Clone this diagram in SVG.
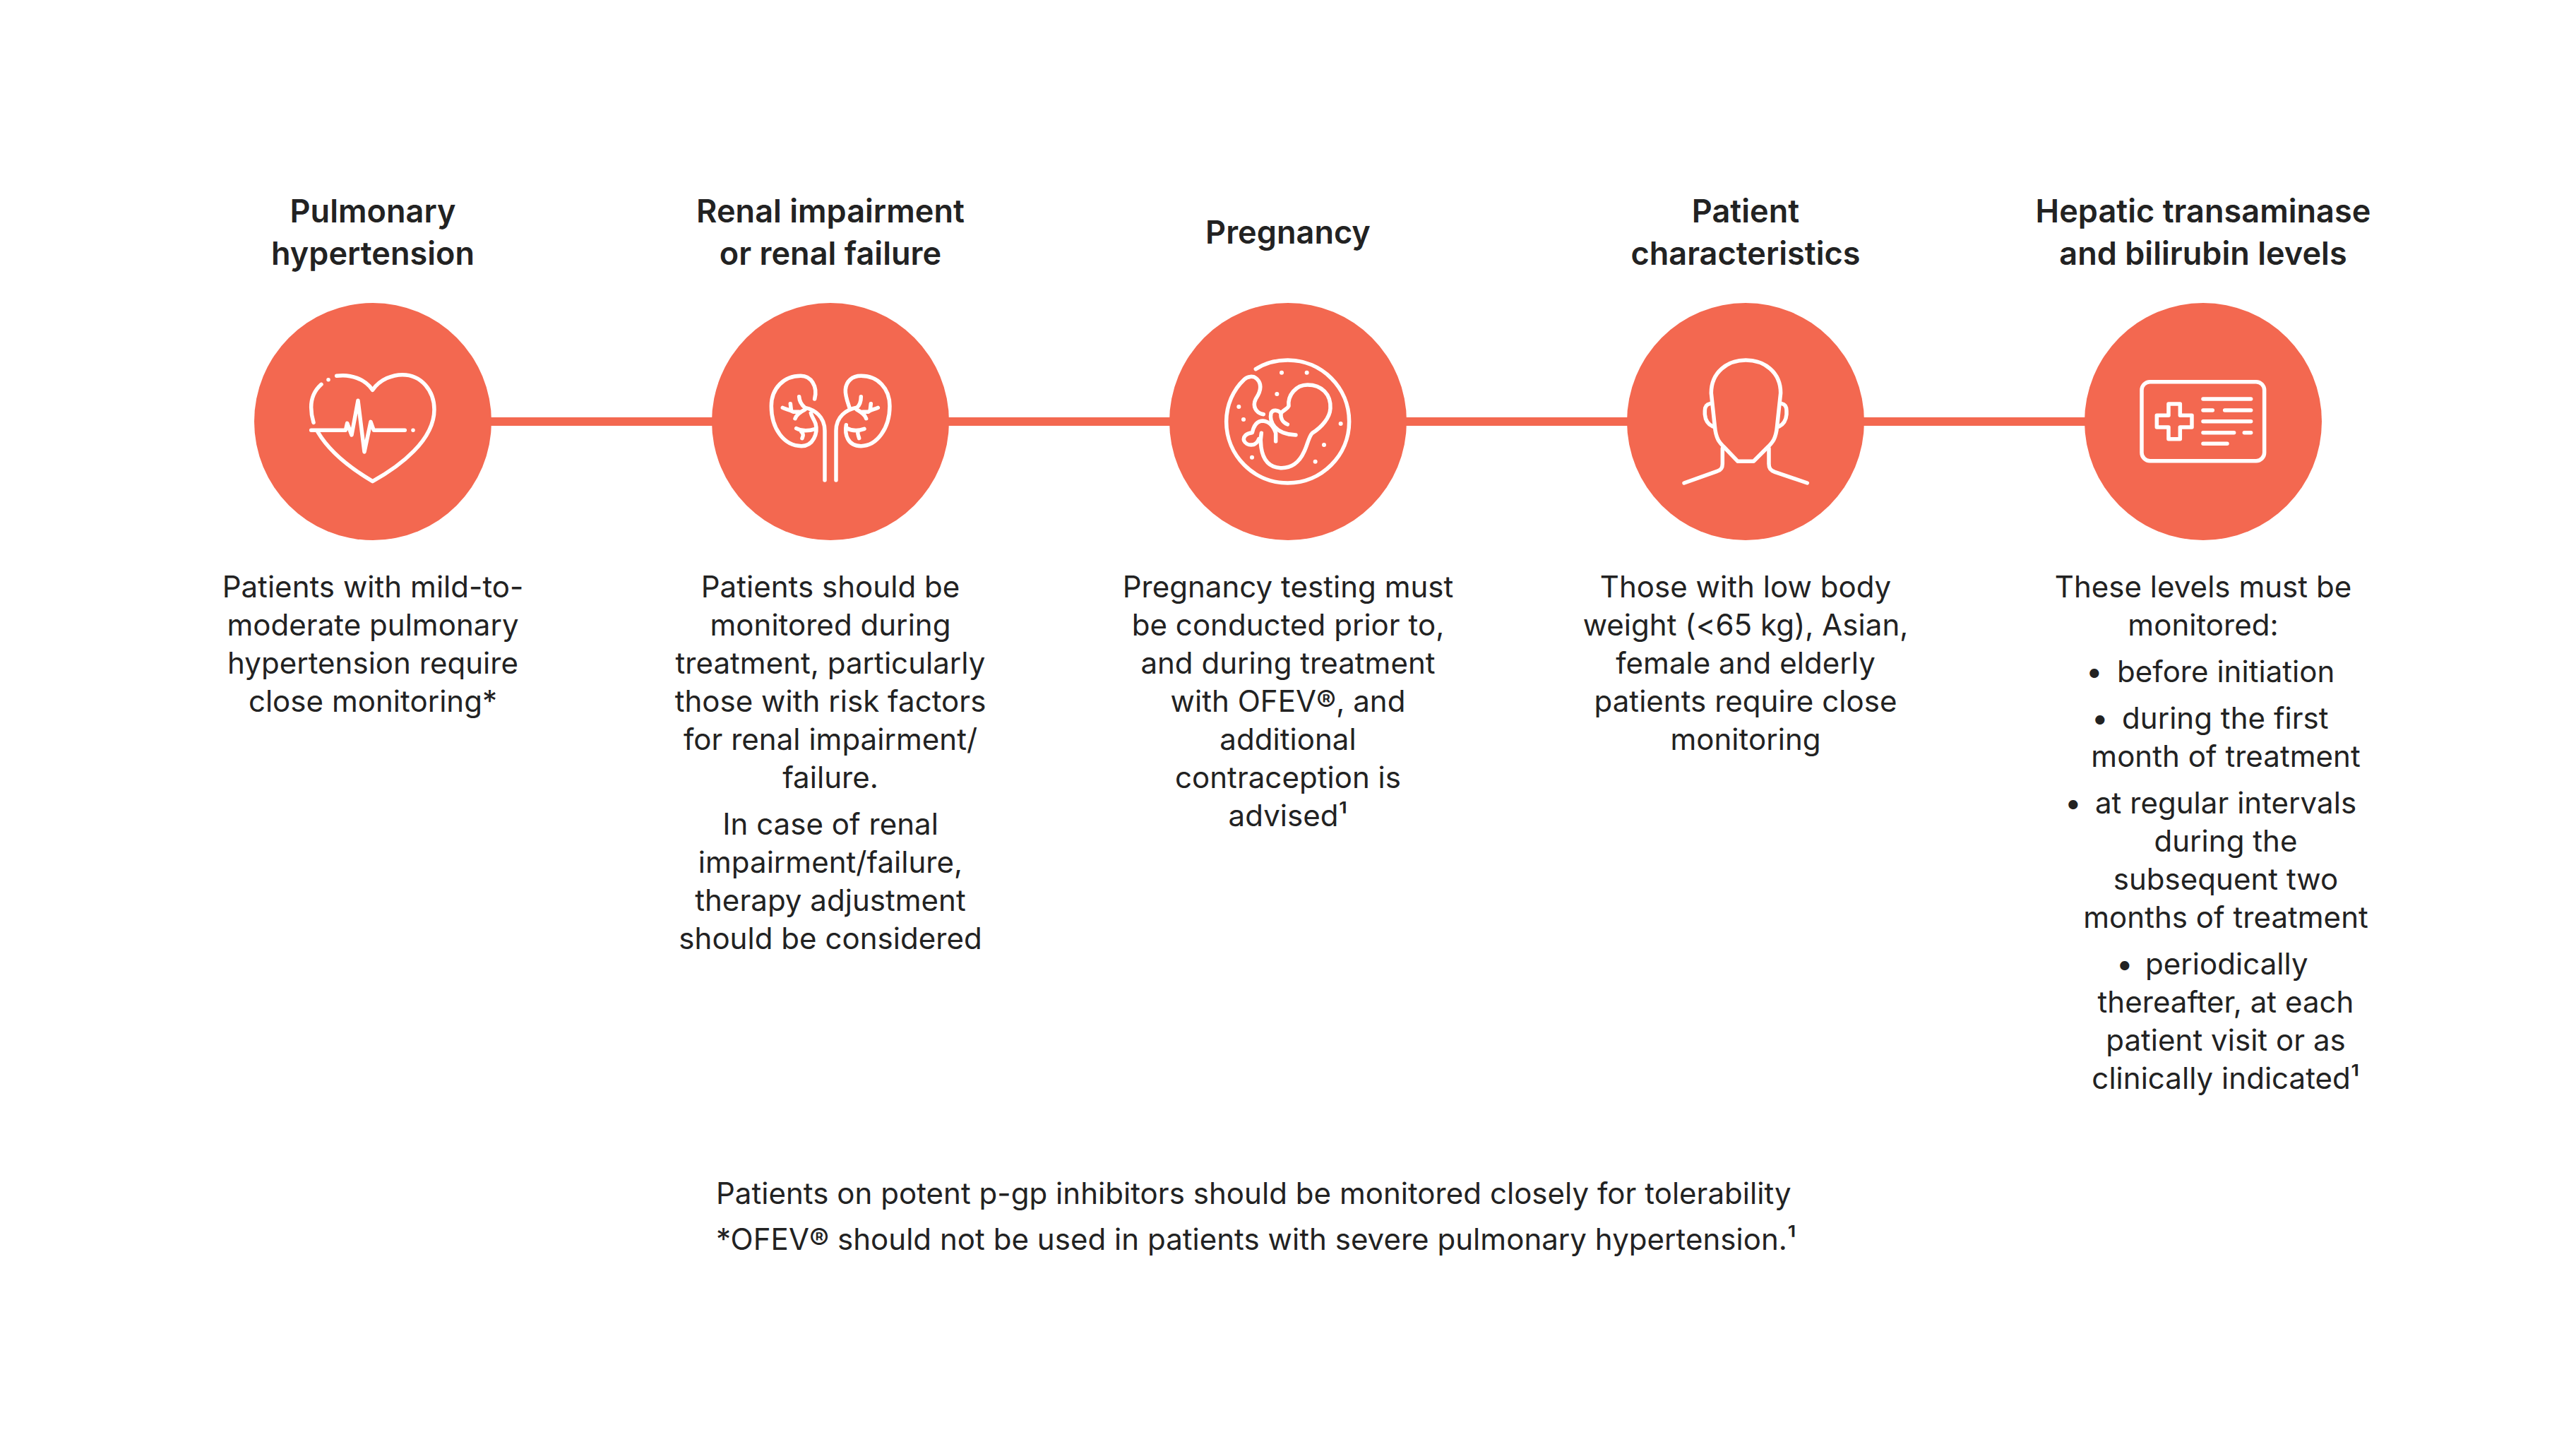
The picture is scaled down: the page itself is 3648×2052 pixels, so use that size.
<svg xmlns="http://www.w3.org/2000/svg" width="3648" height="2052" viewBox="0 0 3648 2052">
<style>
text{font-family:Inter,"Liberation Sans",sans-serif;font-size:42px;letter-spacing:.04px;fill:#222;text-anchor:middle}
.t{font-weight:600;font-size:45px}
.s{text-anchor:start}
.c{fill:#f36850}
.i{fill:none;stroke:#fff;stroke-width:16.5;stroke-linecap:round;stroke-linejoin:round}
</style>
<rect width="3648" height="2052" fill="#fff"/>
<g id="connectors"><rect x="528" y="591" width="2592" height="12" fill="#f36850"/></g>
<g id="node-pulmonary">
<text class="t" x="528" y="315">Pulmonary</text><text class="t" x="528" y="375">hypertension</text>
<circle class="c" cx="528" cy="597" r="168"/>
<g transform="translate(400,490) scale(.3333)" class="i">
<path d="M230 127C290 118 350 140 383 187C415 140 470 122 510 122C590 122 645 190 645 270C645 400 500 510 383 575C290 520 200 450 150 365"/>
<path d="M165 163C135 190 122 225 122 260C122 285 126 305 132 325"/>
<path d="M122 358H268L275 328L294 378L321 232L348 450L375 322L388 358H520"/>
<path d="M195 143h.1M555 358h.1"/>
</g>
<text x="528" y="846">Patients with mild-to-</text><text x="528" y="900">moderate pulmonary</text><text x="528" y="954">hypertension require</text><text x="528" y="1008">close monitoring*</text>
</g>
<g id="node-renal">
<text class="t" x="1176" y="315">Renal impairment</text><text class="t" x="1176" y="375">or renal failure</text>
<circle class="c" cx="1176" cy="597" r="168"/>
<g transform="translate(1060,500) scale(.3333)" class="i">
<path d="M281 195C295 140 265 97 222 97C150 97 97 150 97 225C97 320 150 395 225 395C275 395 296 340 285 300C278 280 268 270 265 255"/>
<path d="M324 540V330C324 270 280 240 240 232C225 220 216 205 215 185"/>
<path d="M240 240C220 250 205 260 198 278M145 232C160 240 175 240 190 250L215 250M178 215L181 240M203 320C225 332 255 332 285 322M225 335C235 345 232 352 228 362"/>
<path d="M430 235C420 205 410 180 412 155C415 120 440 97 478 97C550 97 600 150 600 225C600 320 545 395 478 395C420 395 408 345 415 305"/>
<path d="M372 540V330C372 270 415 240 460 232C472 222 478 205 478 185"/>
<path d="M460 240C478 250 495 260 500 278M550 232C535 240 520 240 508 250L485 250M520 215L517 240M415 318C440 332 465 332 492 322M465 335C462 345 468 352 470 362"/>
</g>
<text x="1176" y="846">Patients should be</text><text x="1176" y="900">monitored during</text><text x="1176" y="954">treatment, particularly</text><text x="1176" y="1008">those with risk factors</text><text x="1176" y="1062">for renal impairment/</text><text x="1176" y="1116">failure.</text>
<text x="1176" y="1182">In case of renal</text><text x="1176" y="1236">impairment/failure,</text><text x="1176" y="1290">therapy adjustment</text><text x="1176" y="1344">should be considered</text>
</g>
<g id="node-pregnancy">
<text class="t" x="1824" y="345">Pregnancy</text>
<circle class="c" cx="1824" cy="597" r="168"/>
<g transform="translate(1710,490) scale(.3333)" class="i">
<path d="M205 98C245 72 295 60 341 60C485 60 602 177 602 321C602 465 485 582 341 582C197 582 80 465 80 321C80 250 110 185 155 143C170 128 195 125 210 140C235 165 225 195 205 225C190 255 205 285 238 290"/>
<path d="M340 333C318 325 310 305 312 285C300 272 278 268 270 285C262 320 285 375 375 378"/>
<path d="M312 285C325 270 340 268 345 255C340 210 375 165 425 165C485 165 525 205 522 265C520 305 485 345 445 370C430 385 425 420 410 450C390 495 355 520 310 518C260 515 235 480 228 430C224 405 226 385 229 370"/>
<path d="M290 405V370C280 340 260 320 235 318C205 318 195 345 190 368C165 370 150 385 155 402C165 425 205 430 218 395"/>
<path d="M315 113h.1M422 113h.1M295 204h.1M133 258h.1M153 312h.1M566 330h.1M495 420h.1M458 491h.1M189 473h.1" stroke-width="18"/>
</g>
<text x="1824" y="846">Pregnancy testing must</text><text x="1824" y="900">be conducted prior to,</text><text x="1824" y="954">and during treatment</text><text x="1824" y="1008">with OFEV®, and</text><text x="1824" y="1062">additional</text><text x="1824" y="1116">contraception is</text><text x="1824" y="1170">advised¹</text>
</g>
<g id="node-patient">
<text class="t" x="2472" y="315">Patient</text><text class="t" x="2472" y="375">characteristics</text>
<circle class="c" cx="2472" cy="597" r="168"/>
<g transform="translate(2360,490) scale(.3333)" class="i">
<path d="M190 200L205 340C210 395 225 410 245 430L303 490H370L430 430C450 410 465 395 470 340L485 200C485 110 415 60 337 60C260 60 190 110 190 200Z"/>
<path d="M185 245C170 248 163 258 163 275V290C165 315 175 332 197 342M490 245C505 248 510 258 510 275V290C508 315 498 332 478 342"/>
<path d="M238 435V500C238 520 230 528 215 532L75 582M435 435V500C435 520 442 528 460 535L598 582"/>
</g>
<text x="2472" y="846">Those with low body</text><text x="2472" y="900">weight (&lt;65 kg), Asian,</text><text x="2472" y="954">female and elderly</text><text x="2472" y="1008">patients require close</text><text x="2472" y="1062">monitoring</text>
</g>
<g id="node-hepatic">
<text class="t" x="3120" y="315">Hepatic transaminase</text><text class="t" x="3120" y="375">and bilirubin levels</text>
<circle class="c" cx="3120" cy="597" r="168"/>
<g transform="translate(3010,520) scale(.3333)" class="i">
<rect x="69" y="62" width="521" height="336" rx="35"/>
<path d="M183 156H232V205H282V255H232V305H183V255H133V205H183Z"/>
<path d="M330 135H533M330 183H370M422 183H533M330 230H533M330 278H461M505 278H533M330 325H432"/>
</g>
<text x="3120" y="846">These levels must be</text><text x="3120" y="900">monitored:</text>
<text class="s" x="2954" y="966">•</text><text class="s" x="2998" y="966">before initiation</text>
<text class="s" x="2962" y="1032">•</text><text class="s" x="3005" y="1032">during the first</text><text x="3152" y="1086">month of treatment</text>
<text class="s" x="2924" y="1152">•</text><text class="s" x="2967" y="1152">at regular intervals</text><text x="3152" y="1206">during the</text><text x="3152" y="1260">subsequent two</text><text x="3152" y="1314">months of treatment</text>
<text class="s" x="2997" y="1380">•</text><text class="s" x="3038" y="1380">periodically</text><text x="3152" y="1434">thereafter, at each</text><text x="3152" y="1488">patient visit or as</text><text x="3152" y="1542">clinically indicated¹</text>
</g>
<g id="footnote">
<text class="s" x="1014" y="1705">Patients on potent p-gp inhibitors should be monitored closely for tolerability</text>
<text class="s" x="1014" y="1770">*OFEV® should not be used in patients with severe pulmonary hypertension.¹</text>
</g>
</svg>
